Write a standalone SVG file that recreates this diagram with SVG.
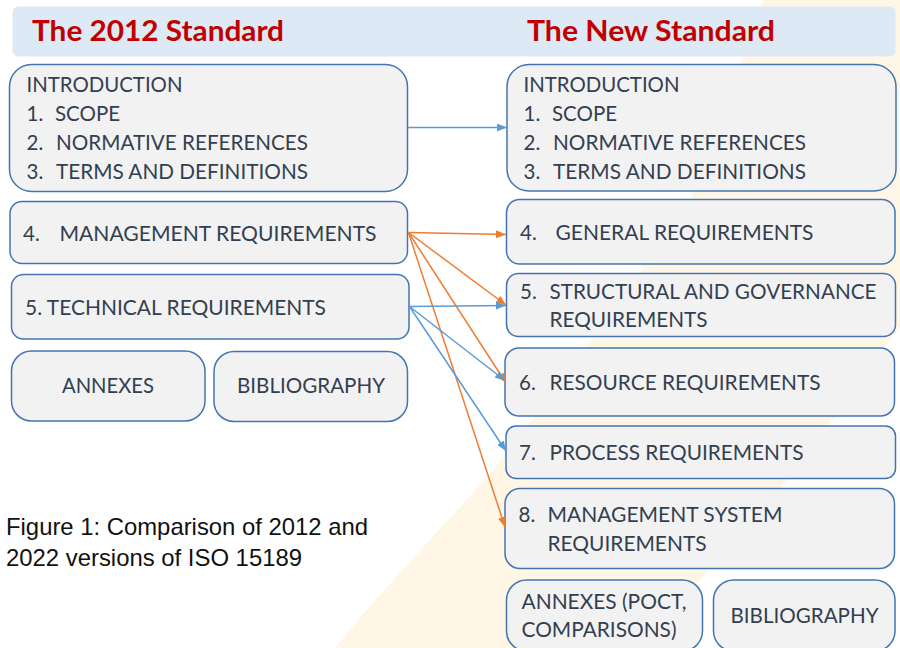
<svg xmlns="http://www.w3.org/2000/svg" width="900" height="648" viewBox="0 0 900 648">
<style>
.box{fill:#F2F2F2;stroke:#4475B0;stroke-width:1.5}
.t{font-family:Lato,"Open Sans","Liberation Sans",sans-serif;font-size:20.5px;fill:#333F50}
.h{font-family:Lato,"Open Sans","Liberation Sans",sans-serif;font-size:29px;font-weight:bold;fill:#C00000}
.cap{font-family:"Liberation Sans",Arial,sans-serif;font-size:24px;fill:#111111}
.or{stroke:#ED7D31;stroke-width:1.5;fill:none;marker-end:url(#ao)}
.bl{stroke:#5B9BD5;stroke-width:1.5;fill:none;marker-end:url(#ab)}
</style>
<defs>
<marker id="ao" viewBox="0 0 10 8" refX="10" refY="4" markerWidth="10" markerHeight="8" markerUnits="userSpaceOnUse" orient="auto"><path d="M0,0 L10,4 L0,8 z" fill="#ED7D31"/></marker>
<marker id="ab" viewBox="0 0 10 8" refX="10" refY="4" markerWidth="10" markerHeight="8" markerUnits="userSpaceOnUse" orient="auto"><path d="M0,0 L10,4 L0,8 z" fill="#5B9BD5"/></marker>
</defs>
<rect width="900" height="648" fill="#FFFFFF"/>
<path id="band" d="M763,0 L905,0 L905,320 C870,365 820,440 787,480 C740,535 690,590 640,648 L335,648 C390,580 450,520 493,470 C540,410 600,330 643,268 C665,237 685,215 693,193 C720,120 745,50 763,0 Z" fill="#FFF6E5"/>
<g id="header">
<rect x="12.5" y="6.5" width="883" height="50" rx="6" fill="#DDE9F5"/>
<text class="h" x="32" y="41" textLength="252" lengthAdjust="spacingAndGlyphs">The 2012 Standard</text>
<text class="h" x="527" y="41" textLength="248" lengthAdjust="spacingAndGlyphs">The New Standard</text>
</g>
<g id="old-intro">
<rect class="box" x="9.5" y="64.5" width="398" height="127" rx="22"/>
<text class="t" x="26.5" y="92" textLength="156" lengthAdjust="spacingAndGlyphs">INTRODUCTION</text>
<text class="t" x="26.5" y="121">1.</text><text class="t" x="55" y="121" textLength="65" lengthAdjust="spacingAndGlyphs">SCOPE</text>
<text class="t" x="26.5" y="150">2.</text><text class="t" x="56" y="150" textLength="252" lengthAdjust="spacingAndGlyphs">NORMATIVE REFERENCES</text>
<text class="t" x="26.5" y="179">3.</text><text class="t" x="56" y="179" textLength="252" lengthAdjust="spacingAndGlyphs">TERMS AND DEFINITIONS</text>
</g>
<g id="old-management">
<rect class="box" x="10" y="201.5" width="397.5" height="62" rx="12"/>
<text class="t" x="23" y="241">4.</text><text class="t" x="59.5" y="241" textLength="317" lengthAdjust="spacingAndGlyphs">MANAGEMENT REQUIREMENTS</text>
</g>
<g id="old-technical">
<rect class="box" x="11.5" y="274.5" width="397.5" height="64.5" rx="12"/>
<text class="t" x="25" y="315" textLength="301" lengthAdjust="spacingAndGlyphs">5. TECHNICAL REQUIREMENTS</text>
</g>
<g id="old-annexes">
<rect class="box" x="11.5" y="351" width="193.5" height="70" rx="20"/>
<text class="t" x="108" y="393" text-anchor="middle" textLength="92" lengthAdjust="spacingAndGlyphs">ANNEXES</text>
</g>
<g id="old-bibliography">
<rect class="box" x="214" y="351.5" width="193.5" height="70" rx="20"/>
<text class="t" x="311" y="393" text-anchor="middle" textLength="148" lengthAdjust="spacingAndGlyphs">BIBLIOGRAPHY</text>
</g>
<g id="new-intro">
<rect class="box" x="507" y="64.5" width="389" height="126.5" rx="22"/>
<text class="t" x="523.5" y="92" textLength="156" lengthAdjust="spacingAndGlyphs">INTRODUCTION</text>
<text class="t" x="523.5" y="121">1.</text><text class="t" x="552" y="121" textLength="65" lengthAdjust="spacingAndGlyphs">SCOPE</text>
<text class="t" x="523.5" y="150">2.</text><text class="t" x="553" y="150" textLength="253" lengthAdjust="spacingAndGlyphs">NORMATIVE REFERENCES</text>
<text class="t" x="523.5" y="179">3.</text><text class="t" x="553" y="179" textLength="253" lengthAdjust="spacingAndGlyphs">TERMS AND DEFINITIONS</text>
</g>
<g id="new-general">
<rect class="box" x="506.5" y="199.5" width="388.5" height="64.5" rx="13"/>
<text class="t" x="520" y="240">4.</text><text class="t" x="555.5" y="240" textLength="258" lengthAdjust="spacingAndGlyphs">GENERAL REQUIREMENTS</text>
</g>
<g id="new-structural">
<rect class="box" x="506.5" y="273.5" width="389" height="63" rx="12"/>
<text class="t" x="520" y="299">5.</text><text class="t" x="549.5" y="299" textLength="327" lengthAdjust="spacingAndGlyphs">STRUCTURAL AND GOVERNANCE</text>
<text class="t" x="549.5" y="327" textLength="158" lengthAdjust="spacingAndGlyphs">REQUIREMENTS</text>
</g>
<g id="new-resource">
<rect class="box" x="505" y="348" width="389.5" height="68" rx="14"/>
<text class="t" x="519" y="390">6.</text><text class="t" x="549.5" y="390" textLength="271" lengthAdjust="spacingAndGlyphs">RESOURCE REQUIREMENTS</text>
</g>
<g id="new-process">
<rect class="box" x="506" y="426" width="389.5" height="52.5" rx="10"/>
<text class="t" x="519" y="460">7.</text><text class="t" x="549.5" y="460" textLength="254" lengthAdjust="spacingAndGlyphs">PROCESS REQUIREMENTS</text>
</g>
<g id="new-management-system">
<rect class="box" x="505" y="488.5" width="389.5" height="80" rx="15"/>
<text class="t" x="518.5" y="522">8.</text><text class="t" x="547.5" y="522" textLength="235" lengthAdjust="spacingAndGlyphs">MANAGEMENT SYSTEM</text>
<text class="t" x="547.5" y="551" textLength="159" lengthAdjust="spacingAndGlyphs">REQUIREMENTS</text>
</g>
<g id="new-annexes">
<rect class="box" x="506.5" y="580" width="196" height="71" rx="20"/>
<text class="t" x="521.5" y="609" textLength="165" lengthAdjust="spacingAndGlyphs">ANNEXES (POCT,</text>
<text class="t" x="521.5" y="637" textLength="155" lengthAdjust="spacingAndGlyphs">COMPARISONS)</text>
</g>
<g id="new-bibliography">
<rect class="box" x="713.5" y="580" width="181.5" height="71" rx="20"/>
<text class="t" x="804.5" y="623" text-anchor="middle" textLength="148" lengthAdjust="spacingAndGlyphs">BIBLIOGRAPHY</text>
</g>
<g id="caption">
<text class="cap" x="6" y="535" textLength="362" lengthAdjust="spacingAndGlyphs">Figure 1: Comparison of 2012 and</text>
<text class="cap" x="6" y="566" textLength="296" lengthAdjust="spacingAndGlyphs">2022 versions of ISO 15189</text>
</g>
<g id="connectors">
<line class="bl" x1="408" y1="127.5" x2="507" y2="127.5"/>
<line class="or" x1="408.5" y1="232.5" x2="506" y2="234.5"/>
<line class="or" x1="408.5" y1="232.5" x2="506" y2="305"/>
<line class="or" x1="408.5" y1="232.5" x2="506" y2="383"/>
<line class="or" x1="408.5" y1="232.5" x2="505" y2="527"/>
<line class="bl" x1="409.5" y1="306.5" x2="506" y2="305.5"/>
<line class="bl" x1="409.5" y1="306.5" x2="505" y2="380.5"/>
<line class="bl" x1="409.5" y1="306.5" x2="506" y2="451"/>
</g>
</svg>
